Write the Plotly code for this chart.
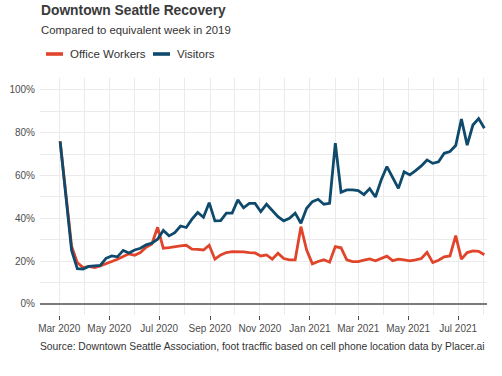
import pandas as pd
import plotly.graph_objects as go

# Weekly readings, % of equivalent week in 2019
start_date = "2020-03-02"
visitors = [76, 50, 25, 16.5, 16.3, 17.5, 17.9, 18, 21.3, 22.4, 22, 25, 23.8, 25.2, 26,
            27.6, 28.4, 30.2, 34.3, 31.8, 33.3, 36.4, 35.7, 39.6, 42.7, 40.5, 47.3, 38.8,
            38.9, 42.4, 42.4, 48.6, 44.9, 47, 47, 43.1, 46.6, 43.9, 40.8, 38.8, 40, 42.4,
            37.7, 44.7, 47.8, 48.9, 46.6, 47, 75.1, 52.2, 53.3, 53.3, 53, 51.1, 53.9, 50,
            57.9, 64.2, 58.7, 54, 61.8, 60.3, 62.3, 64.5, 67.3, 65.7, 66.4, 70.4, 71.2, 74,
            86.4, 74.2, 83.6, 86.6, 82.1]
office_workers = [76, 50, 27, 19.3, 17, 17.5, 17, 17.8, 18.7, 19.8, 20.9, 22, 23.4, 22.7, 24,
                  26.5, 28, 35.8, 26, 26.3, 26.8, 27.1, 27.4, 25.6, 25.5, 25.2, 27.4, 20.9,
                  22.9, 24, 24.4, 24.4, 24.3, 24, 23.8, 22.4, 22.9, 20.9, 23.7, 21.2, 20.6,
                  20.6, 36.1, 25.2, 18.7, 19.8, 20.6, 19.5, 26.8, 26.2, 20.6, 19.8, 19.8, 20.4,
                  21, 20.1, 21.2, 22.3, 20.2, 20.9, 20.6, 20.1, 20.6, 21.2, 24.1, 19.3, 20.4,
                  22, 22.4, 31.9, 20.9, 24, 24.8, 24.6, 23]
series_names = ["Office Workers", "Visitors"]
y_tick_values = [0, 20, 40, 60, 80, 100]
y_tick_labels = ["0%", "20%", "40%", "60%", "80%", "100%"]

dates = pd.date_range(start_date, periods=len(visitors), freq="7D")

ORANGE = "#E0452B"
BLUE = "#0E4A6C"
TEXT = "#333333"
GRID = "#EBEBEB"

W, H = 502, 376
ML, MR, MT, MB = 40, 15, 78, 61
PH = H - MT - MB

def py(pix):
    return (H - MB - pix) / PH

def px(pix):
    return (pix - ML) / (W - ML - MR)

fig = go.Figure()
fig.add_trace(go.Scatter(x=dates, y=office_workers, mode="lines", name=series_names[0],
                         line=dict(color=ORANGE, width=2.8), showlegend=False))
fig.add_trace(go.Scatter(x=dates, y=visitors, mode="lines", name=series_names[1],
                         line=dict(color=BLUE, width=2.8), showlegend=False))

# Legend drawn as swatches + labels
shapes = [
    dict(type="line", xref="paper", yref="paper", x0=px(46), x1=px(63), y0=py(54), y1=py(54),
         line=dict(color=ORANGE, width=3.6)),
    dict(type="line", xref="paper", yref="paper", x0=px(153), x1=px(170), y0=py(54), y1=py(54),
         line=dict(color=BLUE, width=3.6)),
]
annotations = [
    dict(text="<b>Downtown Seattle Recovery</b>", xref="paper", yref="paper",
         x=px(39), y=py(10.5), xanchor="left", yanchor="middle", showarrow=False,
         font=dict(size=13.8, color="#3a3a3a")),
    dict(text="Compared to equivalent week in 2019", xref="paper", yref="paper",
         x=px(39), y=py(30), xanchor="left", yanchor="middle", showarrow=False,
         font=dict(size=11.3, color=TEXT)),
    dict(text=series_names[0], xref="paper", yref="paper", x=px(68), y=py(53.5),
         xanchor="left", yanchor="middle", showarrow=False, font=dict(size=11.5, color=TEXT)),
    dict(text=series_names[1], xref="paper", yref="paper", x=px(175), y=py(53.5),
         xanchor="left", yanchor="middle", showarrow=False, font=dict(size=11.5, color=TEXT)),
    dict(text="Source: Downtown Seattle Association, foot tracffic based on cell phone location data by Placer.ai",
         xref="paper", yref="paper", x=px(38), y=py(346), xanchor="left", yanchor="middle",
         showarrow=False, font=dict(size=10.3, color=TEXT)),
]

fig.update_layout(
    width=W, height=H,
    margin=dict(l=ML, r=MR, t=MT, b=MB),
    paper_bgcolor="white", plot_bgcolor="white",
    font=dict(family="Liberation Sans, Arial, sans-serif", color=TEXT),
    shapes=shapes,
    annotations=annotations,
    showlegend=False,
    xaxis=dict(
        type="date",
        range=["2020-02-06 10:00", "2021-08-05 05:00"],
        tick0="2020-03-01", dtick="M2", tickformat="%b %Y",
        ticks="outside", ticklen=4, tickwidth=1, tickcolor="#4d4d4d",
        showgrid=True, gridcolor=GRID, gridwidth=1,
        minor=dict(dtick="M1", showgrid=True, gridcolor=GRID, gridwidth=1, ticks=""),
        showline=False, zeroline=False, automargin=False,
        tickfont=dict(size=10, color="#4d4d4d"),
    ),
    yaxis=dict(
        range=[-5.2, 105.6],
        tickmode="array", tickvals=y_tick_values, ticktext=y_tick_labels,
        showgrid=True, gridcolor=GRID, gridwidth=1,
        minor=dict(dtick=10, showgrid=True, gridcolor=GRID, gridwidth=1),
        zeroline=True, zerolinecolor="#7a7a7a", zerolinewidth=1.5,
        showline=False, ticks="", ticklabelstandoff=4, automargin=False,
        tickfont=dict(size=10, color="#4d4d4d"),
    ),
)

fig.write_html("out.html", config={"displayModeBar": False},
               post_script="document.body.style.margin='0';")
